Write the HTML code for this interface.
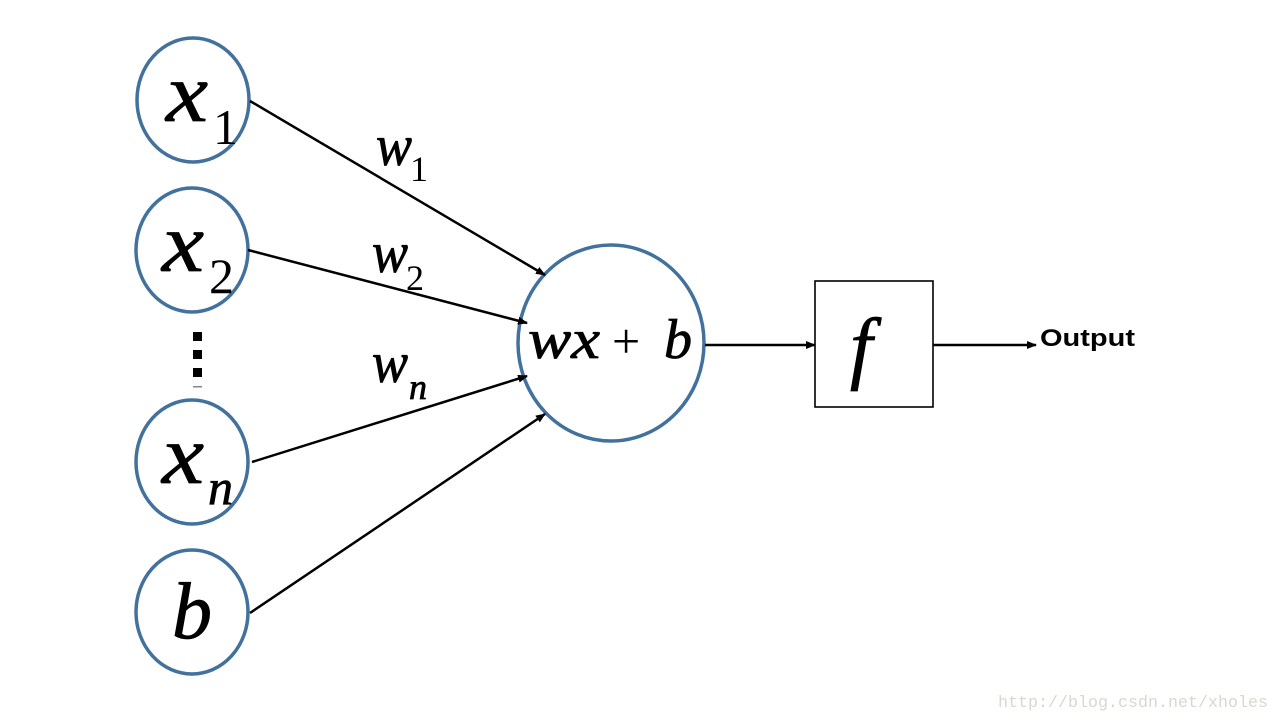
<!DOCTYPE html>
<html><head><meta charset="utf-8"><style>
html,body{margin:0;padding:0;background:#fff;}
svg{display:block;}
.m{font-family:"Liberation Serif",serif;font-style:italic;fill:#000;stroke:#000;stroke-width:0.8;}
.s{font-family:"Liberation Serif",serif;fill:#000;}
</style></head><body>
<svg width="1280" height="720" viewBox="0 0 1280 720" xmlns="http://www.w3.org/2000/svg">
<defs><marker id="a" markerWidth="10" markerHeight="8" refX="9" refY="4" orient="auto" markerUnits="userSpaceOnUse"><path d="M0,0 L10,4 L0,8 z" fill="#000"/></marker></defs>
<g fill="#fff" stroke="#41719c" stroke-width="3.5">
<ellipse cx="193" cy="100" rx="56" ry="62"/>
<ellipse cx="192" cy="250" rx="56" ry="62"/>
<ellipse cx="192" cy="462" rx="56" ry="62"/>
<ellipse cx="192" cy="612" rx="56" ry="62"/>
<ellipse cx="611" cy="343" rx="93" ry="98"/>
</g>
<rect x="815" y="281" width="118" height="126" fill="#fff" stroke="#000" stroke-width="1.6"/>
<g stroke="#000" stroke-width="2.5" marker-end="url(#a)">
<line x1="250" y1="101" x2="545" y2="275"/>
<line x1="248" y1="250" x2="527" y2="323"/>
<line x1="252" y1="462" x2="527" y2="376"/>
<line x1="250" y1="613" x2="545" y2="414"/>
<line x1="705" y1="345" x2="815" y2="345"/>
<line x1="933" y1="345" x2="1036" y2="345"/>
</g>
<g fill="#000">
<rect x="193" y="332" width="9" height="9"/>
<rect x="193" y="350" width="9" height="9"/>
<rect x="193" y="368" width="9" height="9"/>
<rect x="193" y="386" width="9" height="1.5" fill="#888"/>
</g>
<text class="m" x="166" y="121" font-size="84" textLength="42" lengthAdjust="spacingAndGlyphs">x</text><text class="s" x="213" y="144" font-size="50">1</text>
<text class="m" x="162" y="271" font-size="84" textLength="42" lengthAdjust="spacingAndGlyphs">x</text><text class="s" x="209" y="293" font-size="50">2</text>
<text class="m" x="162" y="483" font-size="84" textLength="42" lengthAdjust="spacingAndGlyphs">x</text><text class="m" x="208" y="504" font-size="50">n</text>
<text class="m" x="172" y="638" font-size="80">b</text>
<text class="m" x="376" y="165" font-size="58" textLength="36" lengthAdjust="spacingAndGlyphs">w</text><text class="s" x="410" y="181" font-size="36">1</text>
<text class="m" x="372" y="272" font-size="58" textLength="36" lengthAdjust="spacingAndGlyphs">w</text><text class="s" x="406" y="290" font-size="36">2</text>
<text class="m" x="372" y="382" font-size="58" textLength="36" lengthAdjust="spacingAndGlyphs">w</text><text class="m" x="409" y="399" font-size="36">n</text>
<text class="m" x="528" y="358" font-size="56" textLength="72" lengthAdjust="spacingAndGlyphs">wx</text><text class="s" x="612" y="358" font-size="50">+</text><text class="m" x="664" y="358" font-size="56">b</text>
<text class="m" x="850" y="374" font-size="80">f</text>
<text x="1040" y="346" font-family="Liberation Sans,sans-serif" font-weight="bold" font-size="24" fill="#000" textLength="95" lengthAdjust="spacingAndGlyphs">Output</text>
<text x="998" y="707" font-family="Liberation Mono,monospace" font-size="17" fill="#d8d8d0" textLength="270" lengthAdjust="spacingAndGlyphs">http://blog.csdn.net/xholes</text>
</svg>
</body></html>
